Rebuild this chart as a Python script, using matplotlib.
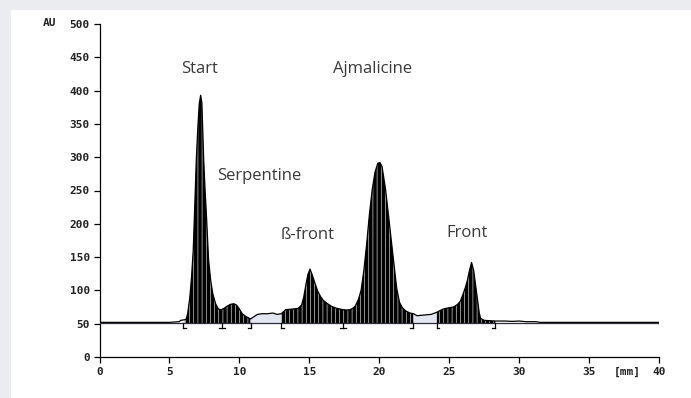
import numpy as np
import matplotlib
matplotlib.use("Agg")
import matplotlib.pyplot as plt
from matplotlib.patches import Rectangle

# densitogram: distance [mm] and signal [AU]
dist_mm = [0.0, 5.0, 5.7, 5.8, 6.1, 6.2, 6.3, 6.45, 6.58, 6.7, 6.8, 6.92,
           7.03, 7.13, 7.23, 7.32, 7.45, 7.55, 7.64, 7.72, 7.8, 7.95, 8.1,
           8.3, 8.5, 8.7, 8.9, 9.1, 9.35, 9.6, 9.8, 10.0, 10.2, 10.45, 10.8,
           11.0, 11.3, 11.6, 12.0, 12.4, 12.7, 13.0,
           13.3, 13.8, 14.2, 14.45, 14.6, 14.75, 14.9, 15.05, 15.2, 15.4,
           15.6, 15.8, 16.0, 16.3, 16.6, 16.9, 17.3, 17.65, 17.9, 18.1, 18.3,
           18.5, 18.7, 18.9, 19.1, 19.3, 19.5, 19.7, 19.9, 20.05, 20.2,
           20.45, 20.65, 20.85, 21.05, 21.25, 21.45, 21.65, 21.9, 22.2, 22.45,
           22.7, 23.2, 23.7, 24.1,
           24.55, 25.0, 25.3, 25.6, 25.8, 26.0, 26.15, 26.3, 26.45, 26.6,
           26.75, 26.87, 26.97, 27.06, 27.15, 27.25, 27.5, 28.3, 29.0, 29.5,
           30.0, 30.5, 31.2, 31.5, 40.0]
signal_au = [52, 52, 53, 55, 56, 57, 65, 88, 120, 160, 221, 296,
             345, 380, 393, 382, 296, 250, 215, 180, 146, 115, 95,
             80, 72, 71, 73, 76, 79, 80, 78, 72, 65, 61, 57,
             60, 64, 65, 65, 66, 64, 65,
             71, 72, 73, 78, 90, 108, 124, 132, 124, 111,
             99, 91, 85, 80, 76, 73.5, 71.5, 70.5, 71, 73, 77,
             86, 100, 130, 170, 215, 252, 278, 291, 292, 286,
             252, 215, 177, 140, 103, 82, 74, 69, 66, 65,
             62, 63, 64, 67,
             72, 74, 75, 79, 84, 95, 104, 115, 130, 142,
             130, 111, 95, 81, 66, 58, 55, 54, 54, 53.5,
             54, 53, 53, 52, 52]

baseline_au = 51
# integrated peak windows and the unassigned gaps between them
peak_windows = [(5.96, 10.8), (13.0, 22.45), (24.1, 28.3)]
gap_windows = [(10.8, 13.0), (22.45, 24.1)]
# integration marks below the baseline: "[" start, "|" split, "]" end
mark_pos = [5.96, 8.75, 10.8, 13.0, 17.4, 22.4, 24.1, 28.25]
mark_kind = ["[", "|", "]", "[", "|", "]", "[", "]"]

labels = ["Start", "Serpentine", "ß-front", "Ajmalicine", "Front"]
label_x = [5.82, 8.39, 12.96, 16.68, 24.82]
label_y = [432, 272, 183, 432, 186]

x = np.array(dist_mm)
y = np.array(signal_au)

plt.rcParams["hatch.linewidth"] = 0.4

fig = plt.figure(figsize=(6.91, 3.98), dpi=100)
fig.patch.set_facecolor("#ebecef")
fig.patches.append(Rectangle((11 / 691, 0), 1, 1 - 10 / 398, transform=fig.transFigure,
                             facecolor="white", edgecolor="none", zorder=-5))

ax = fig.add_axes([99.5 / 691, 41 / 398, 559.5 / 691, 333 / 398])
ax.set_facecolor("none")

for lo, hi in peak_windows:
    m = (x >= lo - 1e-9) & (x <= hi + 1e-9)
    ax.fill_between(x, baseline_au, y, where=m, facecolor="black", edgecolor="white",
                    hatch="||||", linewidth=0, zorder=2)
for lo, hi in gap_windows:
    m = (x >= lo - 1e-9) & (x <= hi + 1e-9)
    ax.fill_between(x, baseline_au, y, where=m, facecolor="#e3e5f0", edgecolor="none",
                    zorder=2)

ax.plot(x, y, color="black", lw=0.9, zorder=3)
ax.axhline(baseline_au, color="#2e2e3e", lw=0.9, zorder=3)

for pos, kind in zip(mark_pos, mark_kind):
    ax.plot([pos, pos], [baseline_au, baseline_au - 8], color="black", lw=0.9, zorder=3)
    if kind == "[":
        ax.plot([pos, pos + 0.2], [baseline_au - 8] * 2, color="black", lw=0.9)
    elif kind == "]":
        ax.plot([pos - 0.2, pos], [baseline_au - 8] * 2, color="black", lw=0.9)
    else:
        ax.plot([pos - 0.2, pos + 0.2], [baseline_au - 8] * 2, color="black", lw=0.9)

for t, lx, ly in zip(labels, label_x, label_y):
    ax.text(lx, ly, t, ha="left", va="center", fontsize=12, color="#3a3a3a",
            family="Open Sans")

ax.set_xlim(0, 40)
ax.set_ylim(0, 500)
for s in ["top", "right"]:
    ax.spines[s].set_visible(False)
for s in ["left", "bottom"]:
    ax.spines[s].set_linewidth(0.9)

ax.set_xticks(range(0, 41, 5))
ax.set_xticklabels([str(v) for v in range(0, 41, 5)])
ax.set_yticks(range(0, 501, 50))
ax.tick_params(length=4, width=0.9, pad=3, labelsize=8)
for lab in ax.get_xticklabels() + ax.get_yticklabels():
    lab.set_family("DejaVu Sans Mono")
    lab.set_fontweight("bold")
    lab.set_color("#222222")

fig.text(43 / 691, 1 - 23 / 398, "AU", ha="left", va="center", fontsize=8,
         family="DejaVu Sans Mono", fontweight="bold", color="#222222")
ax.text(37.7, -0.029, "[mm]", transform=ax.get_xaxis_transform(), ha="center", va="top",
        fontsize=8, family="DejaVu Sans Mono", fontweight="bold", color="#222222")

plt.savefig("out.png", dpi=100, facecolor=fig.get_facecolor())
